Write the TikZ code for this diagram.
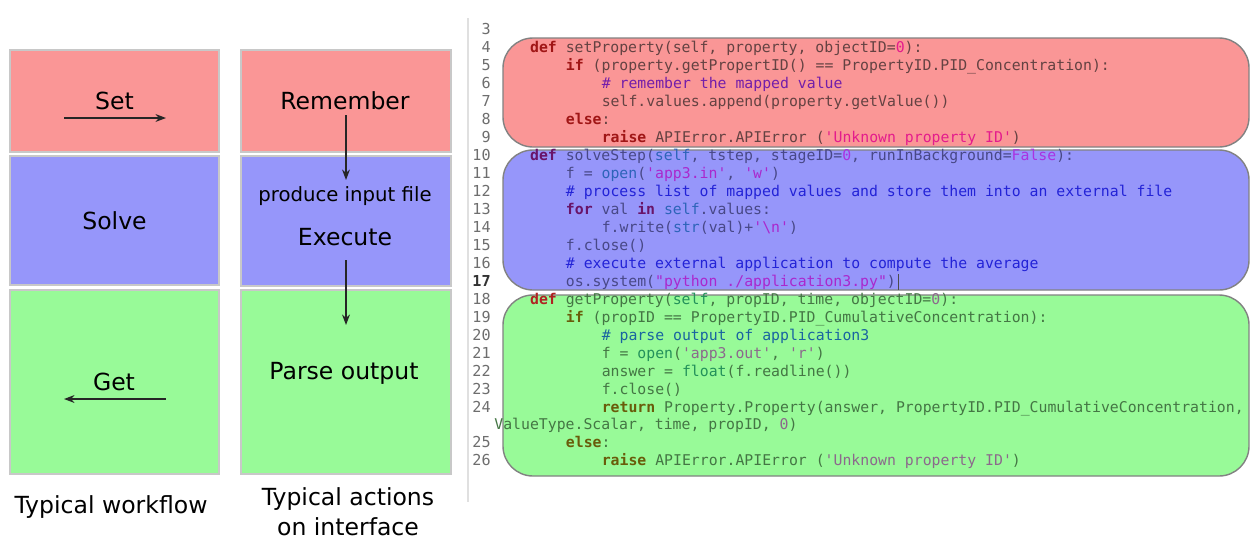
\documentclass[tikz,border=0pt]{standalone}
\usepackage{fontspec}
\setmainfont{DejaVu Sans}
\newfontfamily\codefont{DejaVu Sans Mono}
\usetikzlibrary{arrows.meta}
\definecolor{lred}{RGB}{250,150,150}
\definecolor{lblue}{RGB}{150,150,250}
\definecolor{lgreen}{RGB}{152,250,152}
\definecolor{lborder}{RGB}{200,200,200}
\definecolor{cborder}{RGB}{130,130,130}
\definecolor{lnumc}{RGB}{110,110,110}
\definecolor{txc}{RGB}{40,40,40}
\definecolor{kwc}{RGB}{165,30,30}
\definecolor{stc}{RGB}{230,30,140}
\definecolor{cmc}{RGB}{110,30,170}
\definecolor{bic}{RGB}{40,110,170}
\definecolor{nmc}{RGB}{230,30,140}
\newcommand\ckw[1]{\textcolor{kwc}{\bfseries #1}}
\newcommand\cst[1]{\textcolor{stc}{#1}}
\newcommand\ccm[1]{\textcolor{cmc}{#1}}
\newcommand\cbi[1]{\textcolor{bic}{#1}}
\newcommand\cnm[1]{\textcolor{nmc}{#1}}
\newcommand\sq{\textquotesingle}
\newcommand\cl[3]{\node[codeline] (c#1) at ({494+#2*8.95},{48+(#1)*17.96}) {#3};}
\newcommand\lnumb[2]{\node[linenum] (n#2) at (491,{48+(#1)*17.96}) {#2};}
\tikzset{
  x=0.02cm, y=-0.02cm,
  lbox/.style={draw=lborder, line width=0.6pt, inner sep=0pt},
  lbl/.style={inner sep=0pt, font=\fontsize{13.4}{17}\selectfont},
  smalllbl/.style={inner sep=0pt, font=\fontsize{11.2}{14}\selectfont},
  arr/.style={draw=black!85, line width=0.7pt, -{Stealth[length=6pt,width=4.5pt]}},
  cbox/.style={draw=cborder, line width=0.8pt, rounded corners=0.6cm},
  codeline/.style={anchor=mid west, inner sep=0pt, text=txc, font=\codefont\fontsize{8.43}{10}\selectfont},
  linenum/.style={anchor=mid east, inner sep=0pt, text=lnumc, font=\codefont\fontsize{8.6}{10}\selectfont},
}
\begin{document}
\begin{tikzpicture}
\useasboundingbox[fill=white] (0,0) rectangle (1250,545);
% ---------- left columns ----------
\node[lbox, fill=lred, minimum width=4.18cm, minimum height=2.04cm, lbl] (setbox) at (114.5,101) {Set};
\node[lbox, fill=lblue, minimum width=4.18cm, minimum height=2.58cm, lbl] (solvebox) at (114.5,220.5) {Solve};
\node[lbox, fill=lgreen, minimum width=4.18cm, minimum height=3.68cm, lbl] (getbox) at (114.5,382) {};
\node[lbl] (get) at (114,382) {Get};
\node[lbox, fill=lred, minimum width=4.2cm, minimum height=2.04cm] (rembox) at (346,101) {};
\node[lbl] (remember) at (345,101) {Remember};
\node[lbox, fill=lblue, minimum width=4.2cm, minimum height=2.6cm] (exebox) at (346,221) {};
\node[smalllbl] (produce) at (345,196) {produce input file};
\node[lbl] (execute) at (345,237) {Execute};
\node[lbox, fill=lgreen, minimum width=4.2cm, minimum height=3.68cm] (parsebox) at (346,382) {};
\node[lbl] (parse) at (344,373) {Parse output};
\node[lbl] (twf) at (111,507) {Typical workflow};
\node[lbl, align=center] (tact) at (348,512) {Typical actions\\on interface};
\coordinate (s1) at (64,118); \coordinate (s2) at (166,118);
\coordinate (g1) at (166,399); \coordinate (g2) at (64,399);
\coordinate (r1) at (346,115); \coordinate (r2) at (346,180);
\coordinate (e1) at (346,260); \coordinate (e2) at (346,325);
\draw[arr] (s1) -- (s2);
\draw[arr] (g1) -- (g2);
\draw[arr] (r1) -- (r2);
\draw[arr] (e1) -- (e2);
% ---------- code panel ----------
\draw[black!12, line width=0.6pt] (468,18) -- (468,502);
\draw[cbox, fill=lred] (503,38) rectangle (1249,147);
\draw[cbox, fill=lblue] (503,150) rectangle (1249,290);
\draw[cbox, fill=lgreen] (503,295) rectangle (1249,476);
% line numbers
\lnumb{-1}{3}\lnumb{0}{4}\lnumb{1}{5}\lnumb{2}{6}\lnumb{3}{7}\lnumb{4}{8}\lnumb{5}{9}
\lnumb{6}{10}\lnumb{7}{11}\lnumb{8}{12}\lnumb{9}{13}\lnumb{10}{14}\lnumb{11}{15}\lnumb{12}{16}
\node[linenum, font=\codefont\bfseries\fontsize{8.6}{10}\selectfont, text=black!80] (n17) at (491,{48+13*17.96}) {17};
\lnumb{14}{18}\lnumb{15}{19}\lnumb{16}{20}\lnumb{17}{21}\lnumb{18}{22}\lnumb{19}{23}\lnumb{20}{24}
\lnumb{22}{25}\lnumb{23}{26}
% red box code
\begin{scope}
\definecolor{txc}{RGB}{100,66,66}
\definecolor{kwc}{RGB}{160,22,22}
\definecolor{stc}{RGB}{228,28,140}
\definecolor{nmc}{RGB}{228,28,140}
\definecolor{cmc}{RGB}{115,30,170}
\definecolor{bic}{RGB}{100,66,66}
\cl{0}{4}{\ckw{def} setProperty(self, property, objectID=\cnm{0}):}
\cl{1}{8}{\ckw{if} (property.getPropertID() == PropertyID.PID\_Concentration):}
\cl{2}{12}{\ccm{\# remember the mapped value}}
\cl{3}{12}{self.values.append(property.getValue())}
\cl{4}{8}{\ckw{else}:}
\cl{5}{12}{\ckw{raise} APIError.APIError (\cst{\sq Unknown property ID\sq})}
\end{scope}
% blue box code
\begin{scope}
\definecolor{txc}{RGB}{72,72,135}
\definecolor{kwc}{RGB}{105,20,105}
\definecolor{stc}{RGB}{170,40,205}
\definecolor{nmc}{RGB}{170,50,225}
\definecolor{cmc}{RGB}{35,35,215}
\definecolor{bic}{RGB}{45,100,185}
\cl{6}{4}{\ckw{def} solveStep(\cbi{self}, tstep, stageID=\cnm{0}, runInBackground=\cnm{False}):}
\cl{7}{8}{f = \cbi{open}(\cst{\sq app3.in\sq}, \cst{\sq w\sq})}
\cl{8}{8}{\ccm{\# process list of mapped values and store them into an external file}}
\cl{9}{8}{\ckw{for} val \ckw{in} \cbi{self}.values:}
\cl{10}{12}{f.write(\cbi{str}(val)+\cst{\sq\textbackslash n\sq})}
\cl{11}{8}{f.close()}
\cl{12}{8}{\ccm{\# execute external application to compute the average}}
\cl{13}{8}{os.system(\cst{"python ./application3.py"})}
\end{scope}
\coordinate (cur1) at (898,274); \coordinate (cur2) at (898,290);
\draw[black!70, line width=0.5pt] (cur1) -- (cur2);
% green box code
\begin{scope}
\definecolor{txc}{RGB}{68,118,68}
\definecolor{kwc}{RGB}{105,92,10}
\definecolor{stc}{RGB}{140,105,140}
\definecolor{nmc}{RGB}{140,105,140}
\definecolor{cmc}{RGB}{25,100,160}
\definecolor{bic}{RGB}{35,145,90}
\cl{14}{4}{\textcolor[RGB]{175,35,35}{\bfseries def} getProperty(\cbi{self}, propID, time, objectID=\cnm{0}):}
\cl{15}{8}{\ckw{if} (propID == PropertyID.PID\_CumulativeConcentration):}
\cl{16}{12}{\ccm{\# parse output of application3}}
\cl{17}{12}{f = \cbi{open}(\cst{\sq app3.out\sq}, \cst{\sq r\sq})}
\cl{18}{12}{answer = \cbi{float}(f.readline())}
\cl{19}{12}{f.close()}
\cl{20}{12}{\ckw{return} Property.Property(answer, PropertyID.PID\_CumulativeConcentration,}
\cl{21}{0}{ValueType.Scalar, time, propID, \cnm{0})}
\cl{22}{8}{\ckw{else}:}
\cl{23}{12}{\ckw{raise} APIError.APIError (\cst{\sq Unknown property ID\sq})}
\end{scope}
\end{tikzpicture}
\end{document}
